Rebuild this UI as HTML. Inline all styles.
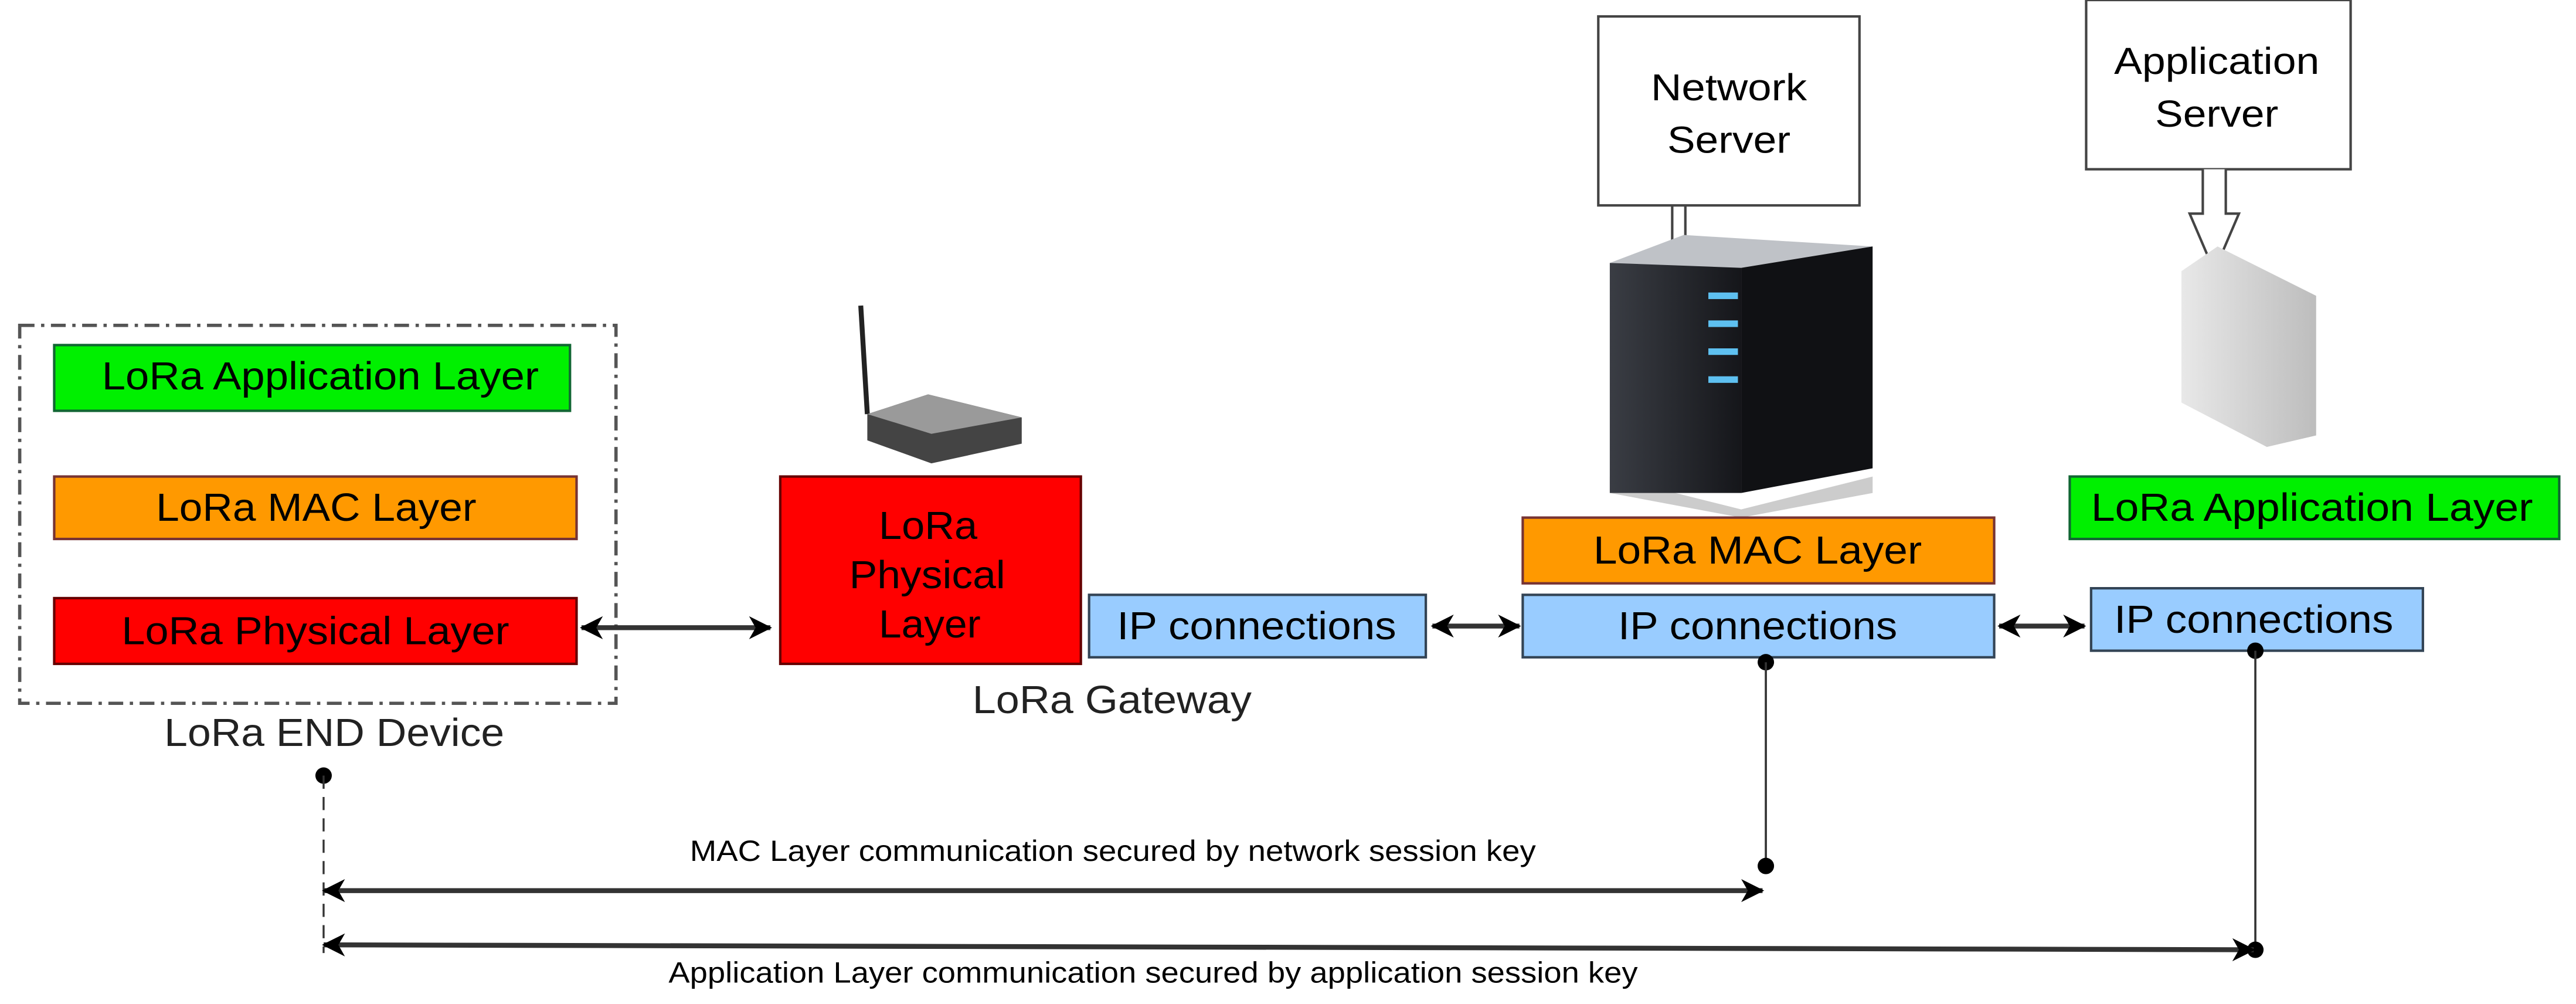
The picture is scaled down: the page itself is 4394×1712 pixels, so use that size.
<!DOCTYPE html>
<html><head><meta charset="utf-8"><style>html,body{margin:0;padding:0;background:#fff}svg{display:block}</style></head>
<body>
<svg width="4394" height="1712" viewBox="0 0 1568.2 611" preserveAspectRatio="none" xmlns="http://www.w3.org/2000/svg" font-family="Liberation Sans, sans-serif">
<defs>
<marker id="ah" markerWidth="14" markerHeight="14" refX="13" refY="7" orient="auto-start-reverse" markerUnits="userSpaceOnUse"><path d="M0,0 L14,7 L0,14 L4,7 Z" fill="#000"/></marker>
<linearGradient id="sv" x1="0" x2="1"><stop offset="0" stop-color="#3a3d44"/><stop offset="1" stop-color="#15161a"/></linearGradient>
<linearGradient id="as" x1="0" x2="1"><stop offset="0" stop-color="#e8e8e8"/><stop offset="1" stop-color="#bdbdbd"/></linearGradient>
</defs>
<!-- end device -->
<rect x="12" y="198" width="363" height="230" fill="none" stroke="#555" stroke-width="2" stroke-dasharray="9,4,2,4"/>
<rect x="33" y="210" width="314" height="40" fill="#00f000" stroke="#163" stroke-width="1.5"/>
<text x="62" y="237" font-size="24" textLength="266" lengthAdjust="spacingAndGlyphs">LoRa Application Layer</text>
<rect x="33" y="290" width="318" height="38" fill="#ff9900" stroke="#733" stroke-width="1.5"/>
<text x="95" y="317" font-size="24" textLength="195" lengthAdjust="spacingAndGlyphs">LoRa MAC Layer</text>
<rect x="33" y="364" width="318" height="40" fill="#ff0000" stroke="#600" stroke-width="1.5"/>
<text x="74" y="392" font-size="24" textLength="236" lengthAdjust="spacingAndGlyphs">LoRa Physical Layer</text>
<text x="100" y="454" font-size="24" fill="#222" textLength="207" lengthAdjust="spacingAndGlyphs">LoRa END Device</text>
<line x1="354" y1="382" x2="469" y2="382" stroke="#333" stroke-width="3" marker-start="url(#ah)" marker-end="url(#ah)"/>
<!-- gateway -->
<line x1="524" y1="186" x2="528" y2="252" stroke="#222" stroke-width="3"/>
<path d="M528,252 L565,240 L622,254 L622,270 L567,282 L528,268 Z" fill="#444"/>
<path d="M528,252 L565,240 L622,254 L567,264 Z" fill="#9a9a9a"/>
<rect x="475" y="290" width="183" height="114" fill="#ff0000" stroke="#600" stroke-width="1.5"/>
<text x="535" y="328" font-size="24" textLength="60" lengthAdjust="spacingAndGlyphs">LoRa</text>
<text x="517" y="358" font-size="24" textLength="95" lengthAdjust="spacingAndGlyphs">Physical</text>
<text x="535" y="388" font-size="24" textLength="62" lengthAdjust="spacingAndGlyphs">Layer</text>
<text x="592" y="434" font-size="24" fill="#222" textLength="170" lengthAdjust="spacingAndGlyphs">LoRa Gateway</text>
<rect x="663" y="362" width="205" height="38" fill="#99ccff" stroke="#345" stroke-width="1.5"/>
<text x="680" y="389" font-size="24" textLength="170" lengthAdjust="spacingAndGlyphs">IP connections</text>
<line x1="872" y1="381" x2="925" y2="381" stroke="#333" stroke-width="3" marker-start="url(#ah)" marker-end="url(#ah)"/>
<!-- network server -->
<rect x="973" y="10" width="159" height="115" fill="#fff" stroke="#444" stroke-width="1.5"/>
<text x="1005" y="61" font-size="23" textLength="95" lengthAdjust="spacingAndGlyphs">Network</text>
<text x="1015" y="93" font-size="23" textLength="75" lengthAdjust="spacingAndGlyphs">Server</text>
<path d="M1018,125 V152 M1026,125 V152" stroke="#444" stroke-width="1.5"/>
<path d="M980,290 L1060,310 L1140,290 L1140,300 L1060,315 L980,300 Z" fill="#ccc"/>
<rect x="980" y="160" width="80" height="140" fill="url(#sv)"/>
<path d="M1060,160 L1140,150 L1140,285 L1060,300 Z" fill="#101114"/>
<path d="M980,160 L1025,143 L1140,150 L1060,163 Z" fill="#bfc2c7"/>
<g fill="#5ec0f0"><rect x="1040" y="178" width="18" height="4"/><rect x="1040" y="195" width="18" height="4"/><rect x="1040" y="212" width="18" height="4"/><rect x="1040" y="229" width="18" height="4"/></g>
<rect x="927" y="315" width="287" height="40" fill="#ff9900" stroke="#733" stroke-width="1.5"/>
<text x="970" y="343" font-size="24" textLength="200" lengthAdjust="spacingAndGlyphs">LoRa MAC Layer</text>
<rect x="927" y="362" width="287" height="38" fill="#99ccff" stroke="#345" stroke-width="1.5"/>
<text x="985" y="389" font-size="24" textLength="170" lengthAdjust="spacingAndGlyphs">IP connections</text>
<line x1="1217" y1="381" x2="1269" y2="381" stroke="#333" stroke-width="3" marker-start="url(#ah)" marker-end="url(#ah)"/>
<!-- application server -->
<rect x="1270" y="0" width="161" height="103" fill="#fff" stroke="#444" stroke-width="1.5"/>
<text x="1287" y="45" font-size="23" textLength="125" lengthAdjust="spacingAndGlyphs">Application</text>
<text x="1312" y="77" font-size="23" textLength="75" lengthAdjust="spacingAndGlyphs">Server</text>
<path d="M1341,103 V130 H1333 L1348,165 L1363,130 H1355 V103" fill="#fff" stroke="#444" stroke-width="1.5"/>
<path d="M1328,165 L1350,150 L1410,180 L1410,265 L1380,272 L1328,245 Z" fill="url(#as)"/>
<rect x="1260" y="290" width="298" height="38" fill="#00f000" stroke="#163" stroke-width="1.5"/>
<text x="1273" y="317" font-size="24" textLength="269" lengthAdjust="spacingAndGlyphs">LoRa Application Layer</text>
<rect x="1273" y="358" width="202" height="38" fill="#99ccff" stroke="#345" stroke-width="1.5"/>
<text x="1287" y="385" font-size="24" textLength="170" lengthAdjust="spacingAndGlyphs">IP connections</text>
<!-- bottom lines -->
<circle cx="197" cy="472" r="5"/>
<line x1="197" y1="472" x2="197" y2="580" stroke="#333" stroke-width="1.2" stroke-dasharray="8,5"/>
<circle cx="1075" cy="403" r="5"/>
<line x1="1075" y1="403" x2="1075" y2="527" stroke="#333" stroke-width="1.3"/>
<circle cx="1075" cy="527" r="5"/>
<circle cx="1373" cy="396" r="5"/>
<line x1="1373" y1="396" x2="1373" y2="578" stroke="#333" stroke-width="1.3"/>
<circle cx="1373" cy="578" r="5"/>
<line x1="197" y1="542" x2="1073" y2="542" stroke="#333" stroke-width="3" marker-start="url(#ah)" marker-end="url(#ah)"/>
<text x="420" y="524" font-size="18" textLength="515" lengthAdjust="spacingAndGlyphs">MAC Layer communication secured by network session key</text>
<line x1="197" y1="575" x2="1372" y2="578" stroke="#333" stroke-width="3" marker-start="url(#ah)" marker-end="url(#ah)"/>
<text x="407" y="598" font-size="18" textLength="590" lengthAdjust="spacingAndGlyphs">Application Layer communication secured by application session key</text>
</svg>
</body></html>
